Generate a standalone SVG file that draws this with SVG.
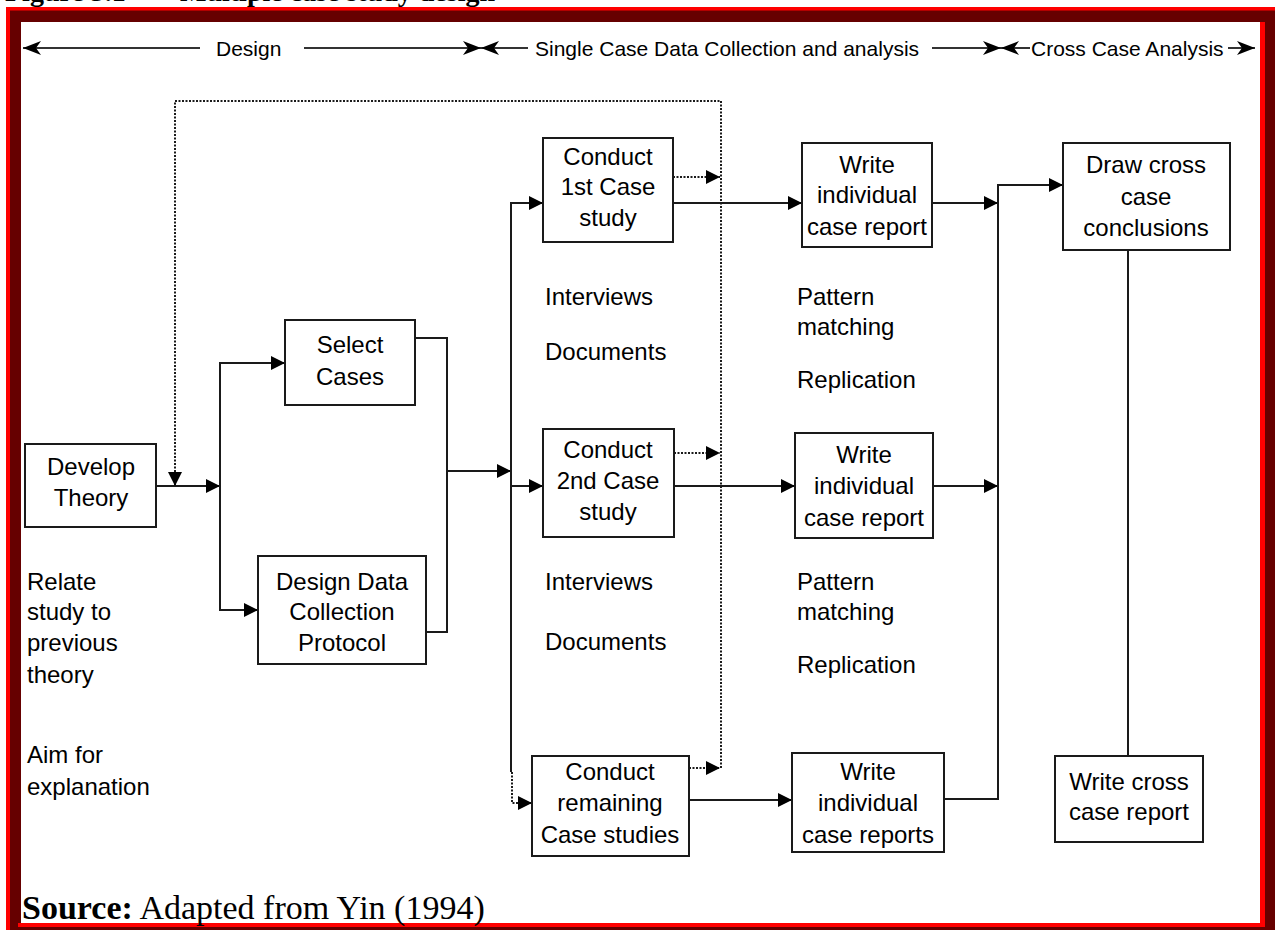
<svg xmlns="http://www.w3.org/2000/svg" width="1275" height="930" viewBox="0 0 1275 930">
  <defs>
    <style>
      .box { fill: #ffffff; stroke: #1a1a1a; stroke-width: 2; }
      .lbl { font-family: "Liberation Sans", Arial, sans-serif; font-size: 24px; fill: #000; text-anchor: middle; }
      .note { font-family: "Liberation Sans", Arial, sans-serif; font-size: 24px; fill: #000; }
      .hdr { font-family: "Liberation Sans", Arial, sans-serif; font-size: 21px; fill: #000; }
      .ln { fill: none; stroke: #1a1a1a; stroke-width: 2; }
      .dot { fill: none; stroke: #1a1a1a; stroke-width: 2; stroke-dasharray: 2 1.5; }
      .arr { marker-end: url(#ah); }
      .hln { fill: none; stroke: #333; stroke-width: 2; }
      .serif { font-family: "Liberation Serif", "Times New Roman", serif; fill: #000; }
    </style>
    <marker id="ah" viewBox="0 0 14 14" refX="14" refY="7" markerWidth="14" markerHeight="14" markerUnits="userSpaceOnUse" orient="auto">
      <path d="M0,0 L14,7 L0,14 z" fill="#000"/>
    </marker>
    <marker id="hh" viewBox="0 0 18 14" refX="18" refY="7" markerWidth="18" markerHeight="14" markerUnits="userSpaceOnUse" orient="auto">
      <path d="M0,0 L18,7 L0,14 L5,7 z" fill="#000"/>
    </marker>
  </defs>

  <!-- page background -->
  <rect x="0" y="0" width="1275" height="930" fill="#ffffff"/>

  <!-- caption, clipped at the top of the page -->
  <text class="serif" x="5" y="1" font-size="28" font-weight="bold">Figure 3.1<tspan x="180">Multiple case study design</tspan></text>

  <!-- framed panel -->
  <rect x="6" y="7" width="1269" height="923" fill="#660000"/>
  <rect x="6" y="7" width="1269" height="3.5" fill="#ff0000"/>
  <rect x="6" y="7" width="4" height="923" fill="#ff0000"/>
  <rect x="1260" y="22" width="5" height="905" fill="#ff0000"/>
  <rect x="18" y="923" width="1247" height="4" fill="#ff0000"/>
  <rect x="21" y="22" width="1239" height="901" fill="#ffffff"/>

  <!-- phase header -->
  <g id="header">
    <line class="hln" x1="200" y1="48" x2="23" y2="48" marker-end="url(#hh)"/>
    <text class="hdr" x="216" y="56">Design</text>
    <line class="hln" x1="304" y1="48" x2="481" y2="48" marker-end="url(#hh)"/>
    <line class="hln" x1="528" y1="48" x2="481" y2="48" marker-end="url(#hh)"/>
    <text class="hdr" x="535" y="56">Single Case Data Collection and analysis</text>
    <line class="hln" x1="932" y1="48" x2="1001" y2="48" marker-end="url(#hh)"/>
    <line class="hln" x1="1030" y1="48" x2="1001" y2="48" marker-end="url(#hh)"/>
    <text class="hdr" x="1031" y="56">Cross Case Analysis</text>
    <line class="hln" x1="1228" y1="48" x2="1255" y2="48" marker-end="url(#hh)"/>
  </g>

  <!-- connectors -->
  <g id="connectors">
    <!-- design stage -->
    <line class="ln arr" x1="157" y1="486" x2="220" y2="486"/>
    <line class="ln" x1="220" y1="362" x2="220" y2="611"/>
    <line class="ln arr" x1="220" y1="363" x2="285" y2="363"/>
    <line class="ln arr" x1="220" y1="610" x2="258" y2="610"/>
    <polyline class="ln" points="415,338 447,338 447,632 426,632"/>
    <line class="ln arr" x1="447" y1="471" x2="511" y2="471"/>
    <!-- case study trunk -->
    <line class="ln" x1="511" y1="202" x2="511" y2="772"/>
    <line class="ln arr" x1="511" y1="203" x2="543" y2="203"/>
    <line class="ln arr" x1="511" y1="486" x2="543" y2="486"/>
    <polyline class="dot arr" points="512,772 512,803 532,803"/>
    <!-- to individual reports -->
    <line class="ln arr" x1="673" y1="203" x2="802" y2="203"/>
    <line class="ln arr" x1="674" y1="486" x2="795" y2="486"/>
    <line class="ln arr" x1="689" y1="800" x2="792" y2="800"/>
    <!-- to cross case conclusions -->
    <line class="ln arr" x1="932" y1="203" x2="998" y2="203"/>
    <line class="ln arr" x1="933" y1="486" x2="998" y2="486"/>
    <polyline class="ln arr" points="944,799 998,799 998,185 1063,185"/>
    <line class="ln" x1="1128" y1="250" x2="1128" y2="756"/>
    <!-- feedback loop -->
    <polyline class="dot arr" points="721,768 721,101 175,101 175,486"/>
    <line class="dot arr" x1="673" y1="177" x2="720" y2="177"/>
    <line class="dot arr" x1="674" y1="453" x2="720" y2="453"/>
    <line class="dot arr" x1="689" y1="768" x2="720" y2="768"/>
  </g>

  <!-- nodes -->
  <g id="develop-theory">
    <rect class="box" x="25" y="444" width="131" height="83"/>
    <text class="lbl" x="91" y="475">Develop</text>
    <text class="lbl" x="91" y="506">Theory</text>
  </g>
  <g id="select-cases">
    <rect class="box" x="285" y="320" width="130" height="85"/>
    <text class="lbl" x="350" y="353">Select</text>
    <text class="lbl" x="350" y="385">Cases</text>
  </g>
  <g id="design-protocol">
    <rect class="box" x="258" y="556" width="168" height="108"/>
    <text class="lbl" x="342" y="590">Design Data</text>
    <text class="lbl" x="342" y="620">Collection</text>
    <text class="lbl" x="342" y="651">Protocol</text>
  </g>
  <g id="case-1">
    <rect class="box" x="543" y="138" width="130" height="104"/>
    <text class="lbl" x="608" y="165">Conduct</text>
    <text class="lbl" x="608" y="195">1st Case</text>
    <text class="lbl" x="608" y="226">study</text>
  </g>
  <g id="report-1">
    <rect class="box" x="802" y="143" width="130" height="104"/>
    <text class="lbl" x="867" y="173">Write</text>
    <text class="lbl" x="867" y="203">individual</text>
    <text class="lbl" x="867" y="235">case report</text>
  </g>
  <g id="cross-conclusions">
    <rect class="box" x="1063" y="143" width="167" height="107"/>
    <text class="lbl" x="1146" y="173">Draw cross</text>
    <text class="lbl" x="1146" y="205">case</text>
    <text class="lbl" x="1146" y="236">conclusions</text>
  </g>
  <g id="case-2">
    <rect class="box" x="543" y="429" width="131" height="108"/>
    <text class="lbl" x="608" y="458">Conduct</text>
    <text class="lbl" x="608" y="489">2nd Case</text>
    <text class="lbl" x="608" y="520">study</text>
  </g>
  <g id="report-2">
    <rect class="box" x="795" y="433" width="138" height="105"/>
    <text class="lbl" x="864" y="463">Write</text>
    <text class="lbl" x="864" y="494">individual</text>
    <text class="lbl" x="864" y="526">case report</text>
  </g>
  <g id="case-remaining">
    <rect class="box" x="532" y="756" width="157" height="100"/>
    <text class="lbl" x="610" y="780">Conduct</text>
    <text class="lbl" x="610" y="811">remaining</text>
    <text class="lbl" x="610" y="843">Case studies</text>
  </g>
  <g id="report-remaining">
    <rect class="box" x="792" y="753" width="152" height="99"/>
    <text class="lbl" x="868" y="780">Write</text>
    <text class="lbl" x="868" y="811">individual</text>
    <text class="lbl" x="868" y="843">case reports</text>
  </g>
  <g id="cross-report">
    <rect class="box" x="1055" y="756" width="148" height="86"/>
    <text class="lbl" x="1129" y="790">Write cross</text>
    <text class="lbl" x="1129" y="820">case report</text>
  </g>

  <!-- annotations -->
  <g id="notes">
    <text class="note" x="545" y="305">Interviews</text>
    <text class="note" x="545" y="360">Documents</text>
    <text class="note" x="797" y="305">Pattern</text>
    <text class="note" x="797" y="335">matching</text>
    <text class="note" x="797" y="388">Replication</text>
    <text class="note" x="545" y="590">Interviews</text>
    <text class="note" x="545" y="650">Documents</text>
    <text class="note" x="797" y="590">Pattern</text>
    <text class="note" x="797" y="620">matching</text>
    <text class="note" x="797" y="673">Replication</text>
    <text class="note" x="27" y="590">Relate</text>
    <text class="note" x="27" y="620">study to</text>
    <text class="note" x="27" y="651">previous</text>
    <text class="note" x="27" y="683">theory</text>
    <text class="note" x="27" y="763">Aim for</text>
    <text class="note" x="27" y="795">explanation</text>
  </g>

  <!-- source line -->
  <text class="serif" x="22" y="919" font-size="34"><tspan font-weight="bold">Source:</tspan> Adapted from Yin (1994)</text>
</svg>
